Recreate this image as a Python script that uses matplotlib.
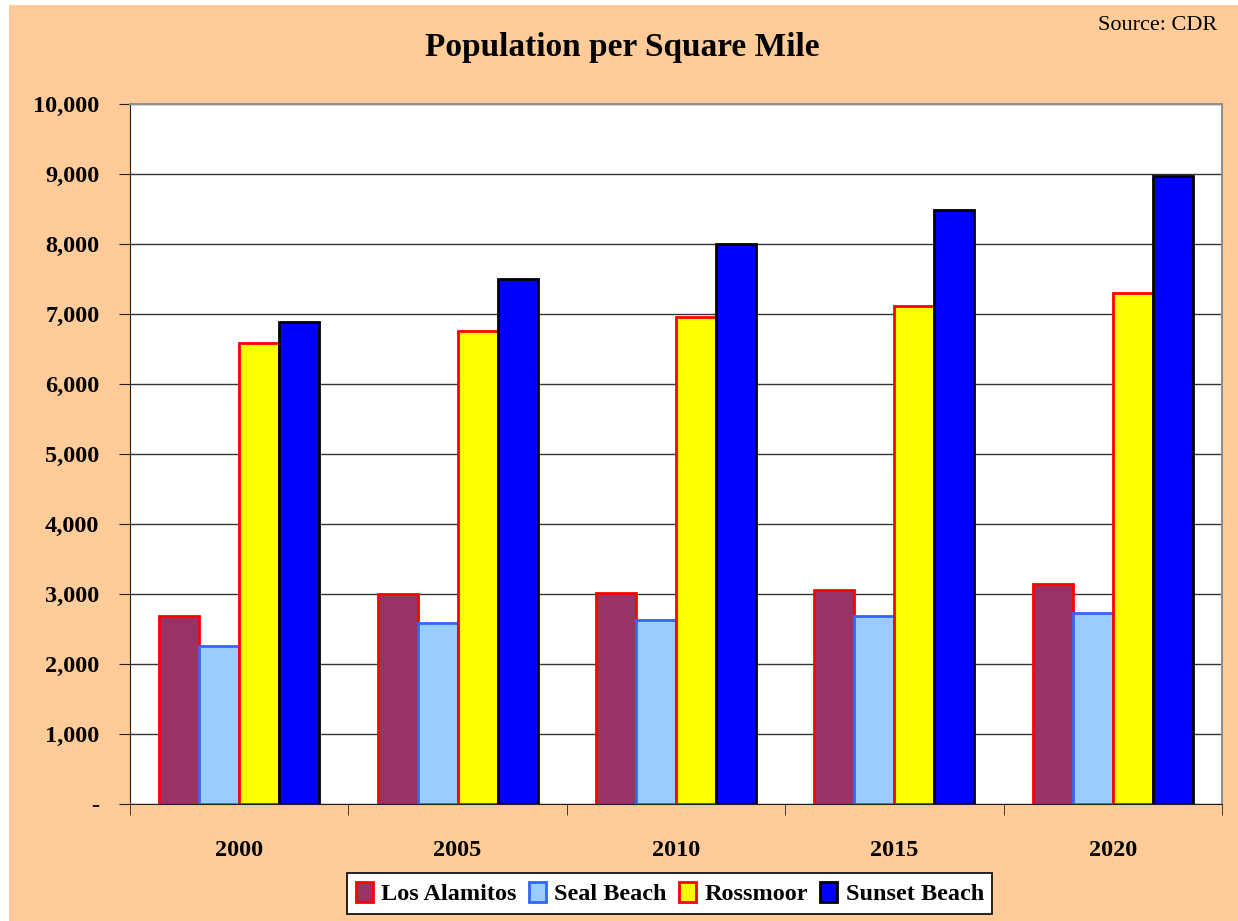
#!/usr/bin/env python3
"""Population per square mile bar chart (Los Alamitos area)."""

import numpy as np
import matplotlib

matplotlib.use("Agg")
import matplotlib.pyplot as plt
from matplotlib.patches import Patch, Rectangle
from matplotlib.ticker import FuncFormatter

YEARS = ["2000", "2005", "2010", "2015", "2020"]
SERIES = ["Los Alamitos", "Seal Beach", "Rossmoor", "Sunset Beach"]
LOS_ALAMITOS = [2680, 3000, 3020, 3060, 3140]
SEAL_BEACH = [2260, 2580, 2630, 2680, 2730]
ROSSMOOR = [6580, 6760, 6960, 7120, 7300]
SUNSET_BEACH = [6880, 7500, 8000, 8480, 8970]

FILLS = ["#993366", "#99CCFF", "#FFFF00", "#0000FF"]
EDGES = ["#FF0000", "#3366FF", "#FF0000", "#000000"]
BG = "#FFCC99"

plt.rcParams["font.family"] = ["Liberation Serif", "DejaVu Serif"]

fig = plt.figure(figsize=(12.38, 9.21), dpi=100)
fig.patch.set_facecolor("white")
fig.patches.append(Rectangle((9 / 1238, 0), 1, 1 - 5 / 921, transform=fig.transFigure,
                             facecolor=BG, edgecolor="none", zorder=-10))

ax = fig.add_axes([130 / 1238, 1 - 804 / 921, (1222 - 130) / 1238, 700 / 921])
ax.set_facecolor("white")

x = np.arange(len(YEARS))
w = 0.183
values = [LOS_ALAMITOS, SEAL_BEACH, ROSSMOOR, SUNSET_BEACH]
for k, vals in enumerate(values):
    ax.bar(x + (k - 1.5) * w, vals, width=w, color=FILLS[k], edgecolor=EDGES[k],
           linewidth=2.0, zorder=3)

ax.set_xlim(-0.5, len(YEARS) - 0.5)
ax.set_ylim(0, 10000)
ax.set_yticks(np.arange(0, 10001, 1000))
ax.yaxis.set_major_formatter(FuncFormatter(lambda v, _: "-" if v == 0 else f"{int(v):,}"))
ax.grid(axis="y", color="#333333", linewidth=1.0, zorder=1)

ax.set_xticks(x)
ax.set_xticklabels(YEARS)
ax.set_xticks(np.arange(-0.5, len(YEARS), 1), minor=True)
ax.tick_params(axis="x", which="major", length=0, pad=26)
ax.tick_params(axis="x", which="minor", length=8, direction="out", color="#222222")
ax.tick_params(axis="y", length=8, direction="out", pad=14, color="#222222")
for lab in ax.get_xticklabels() + ax.get_yticklabels():
    lab.set_fontsize(17.5)
    lab.set_fontweight("bold")

for side in ("top", "right"):
    ax.spines[side].set_color("#909090")
    ax.spines[side].set_linewidth(1.5)
ax.spines["left"].set_color("#222222")
ax.spines["bottom"].set_color("#222222")

fig.text(0.503, 0.948, "Population per Square Mile", ha="center", va="center",
         fontsize=24, fontweight="bold")
fig.text(0.983, 0.972, "Source: CDR", ha="right", va="center", fontsize=16)

handles = [Patch(facecolor=FILLS[k], edgecolor=EDGES[k], linewidth=2.0) for k in range(4)]
leg = fig.legend(handles, SERIES, loc="center", bbox_to_anchor=(0.541, 0.030), ncol=4,
                 frameon=True, fancybox=False, edgecolor="black", framealpha=1,
                 handlelength=0.7, handleheight=0.9, handletextpad=0.35,
                 columnspacing=0.5, borderpad=0.35,
                 prop={"size": 17.5, "weight": "bold"})
leg.get_frame().set_linewidth(1.2)

fig.savefig("out.png", dpi=100, facecolor=fig.get_facecolor())
